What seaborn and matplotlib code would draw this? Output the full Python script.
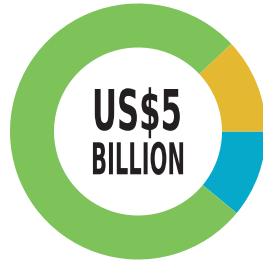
import matplotlib
matplotlib.use("Agg")
import matplotlib.pyplot as plt
import seaborn as sns
from matplotlib.patheffects import AbstractPathEffect
from matplotlib.transforms import Affine2D

# donut shares (US$5 billion total)
labels = ["Blue", "Yellow", "Green"]
shares = [11, 12, 77]
colors = ["#07A9CA", "#E5B831", "#7DC35A"]
title_lines = ["US$5", "BILLION"]


class Squeeze(AbstractPathEffect):
    # narrows glyphs horizontally around cx (display px), like a condensed face
    def __init__(self, sx, cx):
        super().__init__()
        self.sx = sx
        self.cx = cx

    def draw_path(self, renderer, gc, tpath, affine, rgbFace=None):
        a = affine + Affine2D().translate(-self.cx, 0).scale(self.sx, 1).translate(self.cx, 0)
        renderer.draw_path(gc, tpath, a, rgbFace)


sns.set_theme(style="white")
fig = plt.figure(figsize=(2.63, 2.63), dpi=100)
ax = fig.add_axes([0, 0, 1, 1])

ax.pie(shares, colors=colors, startangle=-shares[0] * 3.6, counterclock=True,
       center=(138, 131.5), radius=128,
       wedgeprops=dict(width=44, linewidth=0))
ax.set_xlim(0, 263)
ax.set_ylim(0, 263)
ax.set_aspect("equal")
ax.axis("off")

t1 = ax.text(137, 133, title_lines[0], ha="center", va="baseline",
             fontsize=40.5, fontweight="bold", color="#231F20", family="DejaVu Sans")
t2 = ax.text(138, 88.7, title_lines[1], ha="center", va="baseline",
             fontsize=31.6, fontweight="bold", color="#231F20", family="DejaVu Sans")

fig.canvas.draw()
r = fig.canvas.get_renderer()
for t, target in [(t1, 90), (t2, 94)]:
    bb = t.get_window_extent(r)
    t.set_path_effects([Squeeze(target / bb.width, (bb.x0 + bb.x1) / 2)])

fig.savefig("out.png", dpi=100)
